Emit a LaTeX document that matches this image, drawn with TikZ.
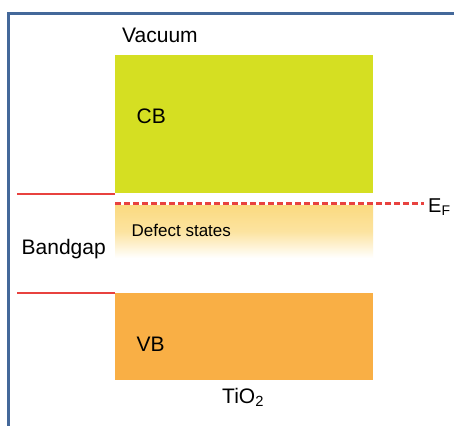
\documentclass[tikz,border=0pt]{standalone}
\usepackage{fontspec}
\setmainfont{Liberation Sans}
\definecolor{framec}{HTML}{44689A}
\definecolor{cbc}{HTML}{D5DF22}
\definecolor{vbc}{HTML}{F9AF45}
\definecolor{defc}{HTML}{FBDA80}
\definecolor{redc}{HTML}{E8423F}
\tikzset{
  lbl/.style={inner sep=0pt, anchor=base west, font=\fontsize{21}{24}\selectfont},
  level/.style={draw=redc, line width=1.2pt},
  fermi/.style={draw=redc, line width=2.4pt, dash pattern=on 6pt off 3pt},
}
\begin{document}
\begin{tikzpicture}[x=1pt,y=-1pt]
\useasboundingbox (0,0) rectangle (454,425);
\fill[white] (0,0) rectangle (454,425);
\draw[framec, line width=3pt] (8.5,440) -- (8.5,13.5) -- (470,13.5);
% bands
\node[fill=cbc, minimum width=258pt, minimum height=138pt, inner sep=0pt, anchor=north west] (cb) at (115,55) {};
\node[fill=vbc, minimum width=258pt, minimum height=87pt, inner sep=0pt, anchor=north west] (vb) at (115,293) {};
\shade[top color=defc, bottom color=white, middle color=defc!75!white] (115,205) rectangle (373,258);
\node[inner sep=0pt, minimum width=258pt, minimum height=53pt, anchor=north west] (def) at (115,205) {};
% Fermi level
\coordinate (efl) at (115,203.5);
\coordinate (efr) at (424,203.5);
\draw[fermi] (efl) -- (efr);
\node[lbl, font=\fontsize{20}{24}\selectfont] (ef) at (428,212) {E\textsubscript{F}};
% gap edges
\coordinate (g1) at (17,194);
\coordinate (g2) at (17,293);
\draw[level] (g1) -- (g1 -| cb.west);
\draw[level] (g2) -- (g2 -| vb.west);
% labels
\node[lbl] (vac) at (122,43) {Vacuum};
\node[lbl] (cbl) at (136.5,123) {CB};
\node[lbl, font=\fontsize{17}{20}\selectfont] (dsl) at (131.5,236) {Defect states};
\node[lbl] (bg) at (21.5,254) {Bandgap};
\node[lbl] (vbl) at (136.5,351) {VB};
\node[lbl] (tio) at (222,403) {TiO\textsubscript{2}};
\end{tikzpicture}
\end{document}
